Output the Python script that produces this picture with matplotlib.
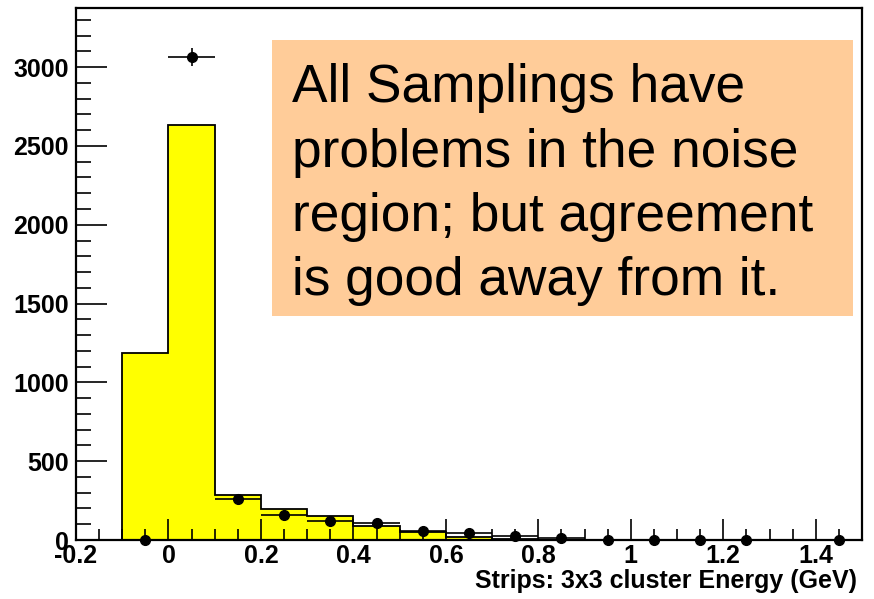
import numpy as np
import matplotlib.pyplot as plt
from matplotlib.patches import Rectangle
from matplotlib.ticker import MultipleLocator

plt.rcParams['font.family'] = ['Liberation Sans', 'DejaVu Sans']

# ── Datos ──────────────────────────────────────────────
bin_edges = [-0.1, 0.0, 0.1, 0.2, 0.3, 0.4, 0.5, 0.6, 0.7, 0.8, 0.9,
             1.0, 1.1, 1.2, 1.3, 1.4, 1.5]
mc_counts = [1186, 2632, 285, 197, 152, 89, 50, 17, 8, 2, 0,
             0, 0, 0, 0, 0]
data_x = [-0.05, 0.05, 0.15, 0.25, 0.35, 0.45, 0.55, 0.65, 0.75, 0.85,
          0.95, 1.05, 1.15, 1.25, 1.45]
data_y = [0, 3063, 260, 159, 122, 110, 59, 42, 25, 11, 3, 2, 1, 1, 1]

note_lines = ['All Samplings have', 'problems in the noise',
              'region; but agreement', 'is good away from it.']

# ── Figura ─────────────────────────────────────────────
W, H = 874, 599
fig = plt.figure(figsize=(W / 100, H / 100), dpi=100, facecolor='white')
ax = fig.add_axes([76 / W, 1 - 540 / H, 786 / W, 532 / H])

ax.stairs(mc_counts, bin_edges, fill=True, color='#ffff00', zorder=1)
ax.stairs(mc_counts, bin_edges, color='black', lw=1.3, zorder=2)

yerr = np.sqrt(data_y)
ax.errorbar(data_x, data_y, xerr=0.05, yerr=yerr, fmt='o', color='black',
            ms=7, elinewidth=1.2, capsize=0, zorder=4, clip_on=False)

ax.set_xlim(-0.2, 1.5)
ax.set_ylim(0, 3375)
ax.xaxis.set_major_locator(MultipleLocator(0.2))
ax.xaxis.set_minor_locator(MultipleLocator(0.05))
ax.yaxis.set_major_locator(MultipleLocator(500))
ax.yaxis.set_minor_locator(MultipleLocator(100))
ax.tick_params(which='both', direction='in', right=False, top=False,
               width=1.2, labelsize=18)
ax.tick_params(which='major', length=15)
ax.tick_params(axis='x', which='minor', length=8)
ax.tick_params(axis='y', which='major', length=22)
ax.tick_params(axis='y', which='minor', length=11)
ax.tick_params(axis='x', pad=3)
ax.tick_params(axis='y', pad=5)
for lbl in ax.get_xticklabels() + ax.get_yticklabels():
    lbl.set_fontweight('bold')
ax.xaxis.set_major_formatter(plt.FuncFormatter(lambda v, p: f'{v:g}'))
for sp in ax.spines.values():
    sp.set_linewidth(1.6)

fig.text(857 / W, 1 - 588 / H, 'Strips: 3x3 cluster Energy (GeV)',
         ha='right', va='baseline', fontsize=18, fontweight='bold')

# Cuadro de texto
fig.patches.append(Rectangle((272 / W, 1 - 316 / H), 581 / W, 276 / H,
                             transform=fig.transFigure, facecolor='#ffcc99',
                             edgecolor='none', zorder=5))
baselines = [101.7, 166.7, 230.5, 295]
for txt, yb in zip(note_lines, baselines):
    fig.text(292 / W, 1 - yb / H, txt, ha='left', va='baseline',
             fontsize=38.3, color='black', zorder=6)

fig.savefig('out.png', dpi=100)
